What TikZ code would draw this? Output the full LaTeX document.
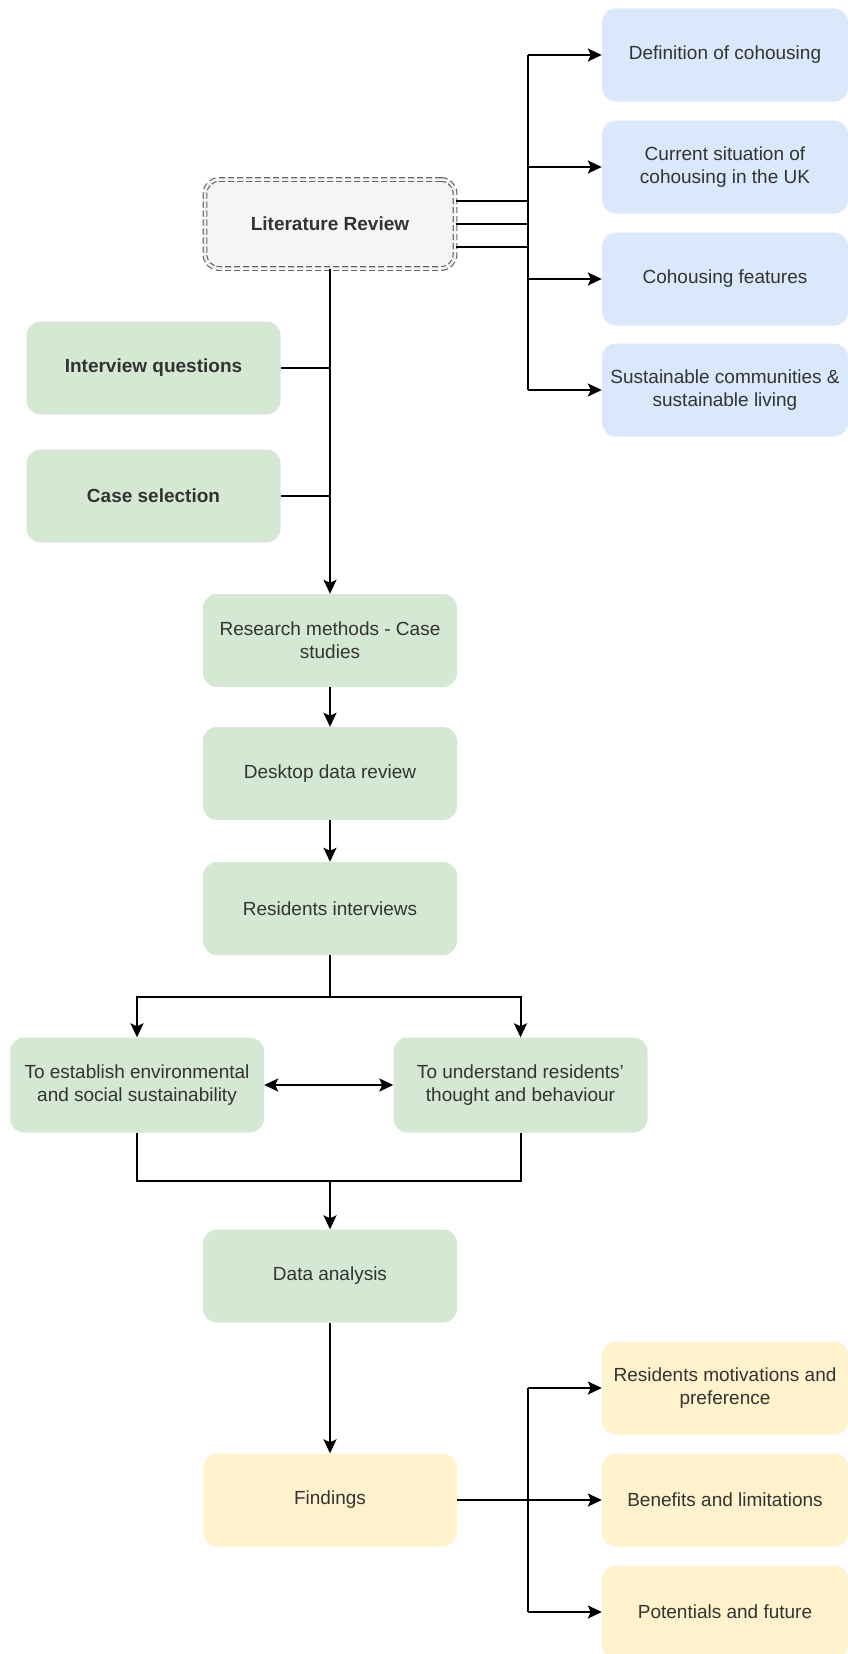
\documentclass[tikz,border=0pt]{standalone}
\usepackage{fontspec}
\setmainfont{Liberation Sans}
\usetikzlibrary{arrows.meta,calc}
\definecolor{gfill}{HTML}{D5E8D4}
\definecolor{bfill}{HTML}{DAE8FC}
\definecolor{yfill}{HTML}{FFF2CC}
\definecolor{lfill}{HTML}{F5F5F5}
\definecolor{lline}{HTML}{666666}
\definecolor{txt}{HTML}{333333}
\tikzset{
  box/.style={rectangle, rounded corners=14pt, draw=none, align=center, text=txt,
    font=\fontsize{19}{23}\selectfont, inner sep=2pt},
  gbox/.style={box, fill=gfill, minimum width=254pt, minimum height=93pt},
  bbox/.style={box, fill=bfill, minimum width=246pt, minimum height=93pt},
  ybox/.style={box, fill=yfill, minimum width=246pt, minimum height=93pt},
  litbox/.style={box, fill=lfill, draw=lline, line width=1.2pt, dash pattern=on 6pt off 3pt,
    double=lfill, double distance=2.5pt,
    minimum width=250pt, minimum height=89pt, font=\fontsize{19}{23}\selectfont\bfseries},
  conn/.style={draw=black, line width=2pt},
  arr/.style={conn, -{Stealth[length=14pt,width=13pt,inset=3pt]}},
  darr/.style={conn, {Stealth[length=14pt,width=13pt,inset=3pt]}-{Stealth[length=14pt,width=13pt,inset=3pt]}}
}
\begin{document}
\begin{tikzpicture}[x=1pt,y=-1pt]
\useasboundingbox (0,0) rectangle (848,1654);
\clip (0,0) rectangle (848,1654);
\fill[white] (0,0) rectangle (848,1654);

% blue boxes
\node[bbox] (def) at (725,55) {Definition of cohousing};
\node[bbox] (cur) at (725,167) {Current situation of\\cohousing in the UK};
\node[bbox] (feat) at (725,279) {Cohousing features};
\node[bbox] (sus) at (725,390) {Sustainable communities \&\\sustainable living};

% literature review
\node[litbox] (lit) at (330,224) {Literature Review};

% left green
\node[gbox, font=\fontsize{19}{23}\selectfont\bfseries] (iq) at (153.5,368) {Interview questions};
\node[gbox, font=\fontsize{19}{23}\selectfont\bfseries] (cs) at (153.5,496) {Case selection};

% main column
\node[gbox] (rm) at (330,640.5) {Research methods - Case\\studies};
\node[gbox] (dd) at (330,773.5) {Desktop data review};
\node[gbox] (ri) at (330,908.5) {Residents interviews};

\node[gbox, minimum height=95pt] (env) at (137,1085) {To establish environmental\\and social sustainability};
\node[gbox, minimum height=95pt] (und) at (520.5,1085) {To understand residents'\\thought and behaviour};

\node[gbox] (da) at (330,1276) {Data analysis};
\node[ybox, minimum width=254pt] (fin) at (330,1500) {Findings};

\node[ybox] (mot) at (725,1388) {Residents motivations and\\preference};
\node[ybox] (ben) at (725,1500) {Benefits and limitations};
\node[ybox] (pot) at (725,1612) {Potentials and future};

% literature review branches
\coordinate (bt) at (528,55);
\coordinate (bb) at (528,390);
\path[conn] (bt) -- (bb);
\path[conn] ([yshift=-23pt]lit.east) -- ++(72,0);
\path[conn] (lit.east) -- ++(72,0);
\path[conn] ([yshift=23pt]lit.east) -- ++(72,0);
\path[arr] (bt) -- (def.west);
\path[arr] (bt |- cur.west) -- (cur.west);
\path[arr] (bt |- feat.west) -- (feat.west);
\path[arr] (bb) -- (sus.west);

% trunk
\path[arr] (lit.south) -- (rm.north);
\path[conn] (iq.east) -- (iq.east -| lit.south);
\path[conn] (cs.east) -- (cs.east -| lit.south);
\path[arr] (rm) -- (dd);
\path[arr] (dd) -- (ri);

% split
\coordinate (sp) at (330,997);
\path[conn] (ri.south) -- (sp);
\path[arr] (sp) -| (env.north);
\path[arr] (sp) -| (und.north);
\path[darr] (env.east) -- (und.west);

% join
\coordinate (jn) at (330,1181);
\path[conn] (env.south) |- (jn);
\path[conn] (und.south) |- (jn);
\path[arr] (jn) -- (da.north);
\path[arr] (da) -- (fin);

% findings branches
\coordinate (ft) at (528,1388);
\coordinate (fb) at (528,1612);
\path[conn] (ft) -- (fb);
\path[arr] (fin.east) -- (ben.west);
\path[arr] (ft) -- (mot.west);
\path[arr] (fb) -- (pot.west);
\end{tikzpicture}
\end{document}
